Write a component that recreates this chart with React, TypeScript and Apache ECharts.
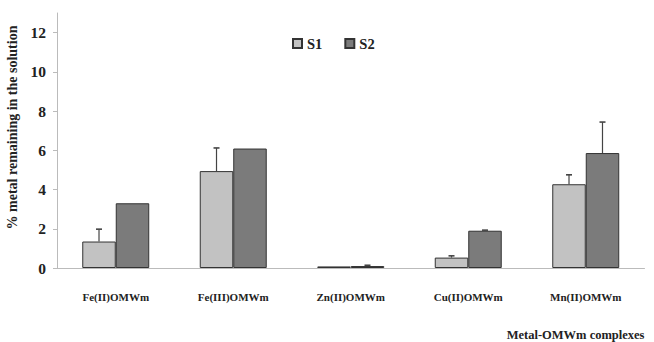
import React, { useEffect, useRef } from "react";
import * as echarts from "echarts";

const categories = ["Fe(II)OMWm", "Fe(III)OMWm", "Zn(II)OMWm", "Cu(II)OMWm", "Mn(II)OMWm"];
const s1Values = [1.35, 4.94, 0.08, 0.53, 4.27];
const s1Errors = [0.63, 1.18, 0, 0.09, 0.48];
const s2Values = [3.3, 6.09, 0.1, 1.9, 5.86];
const s2Errors = [0, 0, 0.04, 0.03, 1.58];
const yTicks = [0, 2, 4, 6, 8, 10, 12];

const FONT = "'Liberation Serif', 'DejaVu Serif', serif";
const BAR_FRAC = 0.285;

function errorSeries(name: string, values: number[], errors: number[], side: number) {
  return {
    type: "custom",
    name: name + "err",
    z: 5,
    silent: true,
    data: values.map((v, i) => [i, v, v + errors[i]]),
    renderItem: (params: any, api: any) => {
      const idx = api.value(0);
      const band = api.size([1, 0])[0];
      const off = (side * band * BAR_FRAC) / 2;
      const base = api.coord([idx, api.value(1)]);
      const top = api.coord([idx, api.value(2)]);
      const x = base[0] + off;
      if (api.value(2) <= api.value(1)) return { type: "group", children: [] };
      const st = { stroke: "#444", lineWidth: 1.2 };
      return {
        type: "group",
        children: [
          { type: "line", shape: { x1: x, y1: base[1], x2: x, y2: top[1] }, style: st },
          { type: "line", shape: { x1: x - 3, y1: top[1], x2: x + 3, y2: top[1] }, style: { stroke: "#444", lineWidth: 1.6 } },
        ],
      };
    },
  };
}

export default function App() {
  const ref = useRef<HTMLDivElement>(null);
  useEffect(() => {
    const chart = echarts.init(ref.current!, undefined, { renderer: "svg" });
    chart.setOption({
      animation: false,
      backgroundColor: "#fff",
      grid: { left: 57, right: 9.5, top: 13, bottom: 74, containLabel: false, outerBoundsMode: "none" },
      legend: {
        left: 287,
        top: 31,
        icon: "rect",
        itemWidth: 9,
        itemHeight: 9,
        itemGap: 22,
        data: ["S1", "S2"],
        textStyle: { fontFamily: FONT, fontWeight: "bold", fontSize: 14.5, color: "#222" },
      },
      xAxis: {
        type: "category",
        data: categories,
        axisLine: { lineStyle: { color: "#bbb" } },
        axisTick: { show: false },
        axisLabel: { fontFamily: FONT, fontWeight: "bold", fontSize: 11, color: "#222", margin: 23 },
        name: "Metal-OMWm complexes",
        nameLocation: "end",
        nameGap: 0,
        nameTextStyle: {
          fontFamily: FONT,
          fontWeight: "bold",
          fontSize: 12.5,
          color: "#222",
          align: "right",
          verticalAlign: "top",
          padding: [60, 0, 0, 0],
        },
      },
      yAxis: {
        type: "value",
        min: 0,
        max: 13,
        interval: 2,
        axisLine: { show: true, lineStyle: { color: "#bbb" } },
        axisTick: { show: true, length: 4, lineStyle: { color: "#bbb" } },
        splitLine: { show: false },
        axisLabel: {
          showMaxLabel: false,
          fontFamily: FONT,
          fontWeight: "bold",
          fontSize: 15.5,
          color: "#222",
          margin: 11,
          formatter: (v: number) => (yTicks.indexOf(v) >= 0 ? String(v) : ""),
        },
        name: "% metal remaining in the solution",
        nameLocation: "middle",
        nameGap: 24,
        nameTextStyle: { fontFamily: FONT, fontWeight: "bold", fontSize: 14, color: "#222", padding: [0, 0, 0, 26] },
      },
      series: [
        {
          type: "bar",
          name: "S1",
          data: s1Values,
          barWidth: BAR_FRAC * 100 + "%",
          barGap: "0%",
          itemStyle: { color: "#c2c2c2", borderColor: "#333", borderWidth: 1 },
        },
        {
          type: "bar",
          name: "S2",
          data: s2Values,
          barWidth: BAR_FRAC * 100 + "%",
          barGap: "0%",
          itemStyle: { color: "#7b7b7b", borderColor: "#333", borderWidth: 1 },
        },
        errorSeries("S1", s1Values, s1Errors, -1),
        errorSeries("S2", s2Values, s2Errors, 1),
      ],
    });
    return () => chart.dispose();
  }, []);
  return <div ref={ref} style={{ width: 654, height: 342, position: "absolute", left: 0, top: 0 }} />;
}
